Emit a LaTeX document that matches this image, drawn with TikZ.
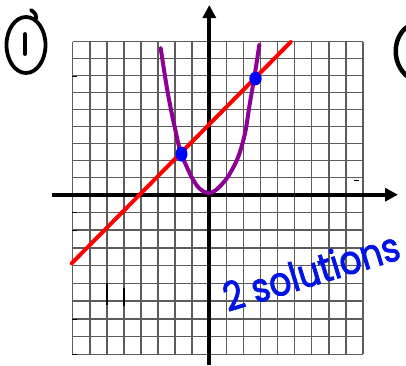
\documentclass[tikz,border=0pt]{standalone}
\usepackage{fontspec}
\newfontfamily\handfont[FakeBold=2,FakeStretch=0.86]{Poppins}
\usetikzlibrary{arrows.meta}
\definecolor{gridgray}{gray}{0.36}
\definecolor{redline}{RGB}{255,0,0}
\definecolor{purplecurve}{RGB}{140,0,150}
\definecolor{dotblue}{RGB}{0,0,255}
\definecolor{textblue}{RGB}{0,20,230}
\tikzset{
  gridline/.style={draw=gridgray, line width=1.5pt},
  scanmark/.style={draw=black, line width=1.4pt},
  axisline/.style={draw=black, line width=4.3pt, -{Triangle[length=13pt,width=13pt]}},
  redgraph/.style={draw=redline, line width=4pt, line cap=round},
  purplegraph/.style={draw=purplecurve, line width=4pt, line cap=round, line join=round},
  soldot/.style={fill=dotblue},
  penstroke/.style={draw=black, line width=3.8pt, line cap=round},
}
\begin{document}
\begin{tikzpicture}[x=1pt,y=-1pt]
\useasboundingbox (0,0) rectangle (406,365);
\fill[white] (0,0) rectangle (406,365);
% grid
\foreach \i in {0,...,17} {
  \draw[gridline] ({72.7+\i*17.07},41.7) -- ({72.7+\i*17.07},354.4);
}
\foreach \j in {0,...,9} {
  \draw[gridline] (72.7,{41.7+\j*17}) -- (362.9,{41.7+\j*17});
}
\foreach \k in {1,...,9} {
  \draw[gridline] (72.7,{194.7+\k*17.75}) -- (362.9,{194.7+\k*17.75});
}
% scan marks
\draw[scanmark] (72,76.2) -- (77,76.2);
\draw[scanmark] (72,212.5) -- (77,212.5);
\draw[scanmark] (72,230.2) -- (77,230.2);
\draw[scanmark] (72,319.2) -- (77,319.2);
\draw[scanmark] (72,354.4) -- (77,354.4);
\draw[scanmark] (354,180.5) -- (359,180.5);
\draw[scanmark] (106.8,283) -- (106.8,305);
\draw[scanmark] (123.9,288) -- (123.9,306);
% axes
\coordinate (xl) at (51.7,194.7);
\coordinate (xr) at (398,194.7);
\coordinate (yb) at (209.3,365);
\coordinate (yt) at (209.3,5);
\draw[axisline] (xl) -- (xr);
\draw[axisline] (yb) -- (yt);
% red line
\coordinate (ra) at (71.7,263.3);
\coordinate (rb) at (290.7,42);
\draw[redgraph] (ra) -- (rb);
% parabola
\draw[purplegraph] plot[smooth, tension=0.6] coordinates {
 (160.7,48.3) (166.7,86.7) (171.7,113.3) (175,128.3) (180,150)
 (186.7,166.7) (193.3,180) (200,189) (208,193) (215,190.7)
 (223.3,182.7) (230,173.3) (238.3,156.7) (245,133.3) (249.3,106.7)
 (253.3,83.3) (256,66.7) (259.3,45)};
% intersection dots
\fill[soldot] (181.5,154) ellipse [x radius=6, y radius=7.5];
\fill[soldot] (255.5,78.5) ellipse [x radius=6.2, y radius=6.8];
% circled 1
\draw[penstroke] (26,45) ellipse [x radius=19.5, y radius=28];
\draw[penstroke] (36,19) .. controls (36,14) .. (31,10);
\draw[penstroke] (25,34) -- (25,54);
% next label, cut off
\draw[penstroke, line width=4.5pt] (407,27) .. controls (392,38) and (392,64) .. (407,76);
% text
\node[anchor=base west, rotate=17, inner sep=0pt, text=textblue, font=\handfont\fontsize{40}{40}\selectfont] (sol) at (228,312) {2 solutions};
\end{tikzpicture}
\end{document}
